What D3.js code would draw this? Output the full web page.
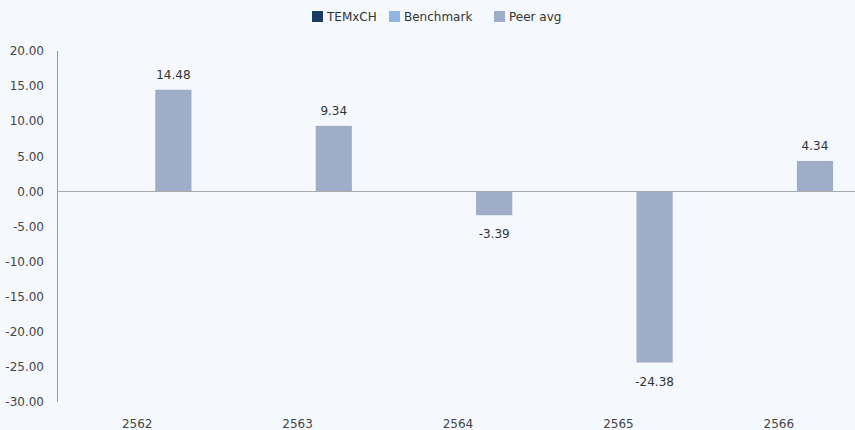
<!DOCTYPE html>
<html>
<head>
<meta charset="utf-8">
<script src="https://cdn.jsdelivr.net/npm/d3@7"></script>
<style>
  body { margin: 0; background: #f5f9fd; }
  svg { display: block; font-family: "DejaVu Sans", "Noto Sans", sans-serif; }
</style>
</head>
<body>
<div id="chart"></div>
<script>
var width = 855;
var height = 430;

// data
var years = ['2562', '2563', '2564', '2565', '2566'];
var seriesNames = ['TEMxCH', 'Benchmark', 'Peer avg'];
var temxch = [null, null, null, null, null];
var benchmark = [null, null, null, null, null];
var peerAvg = [14.48, 9.34, -3.39, -24.38, 4.34];
var yTicks = [20, 15, 10, 5, 0, -5, -10, -15, -20, -25, -30];
var colors = ['#1b3a63', '#8fb6e3', '#a0adc8'];

var seriesValues = [temxch, benchmark, peerAvg];

var svg = d3.select('#chart')
  .append('svg')
  .attr('width', width)
  .attr('height', height);

// plot area (not "top": that name is taken by window.top)
var plotLeft = 57, plotRight = 855, plotTop = 51, plotBottom = 402;

// the category bands run a little past the right edge
var x0 = d3.scaleBand()
  .domain(years)
  .range([plotLeft, 859])
  .paddingInner(0.3233)
  .paddingOuter(0.3233 / 2);

var x1 = d3.scaleBand()
  .domain(seriesNames)
  .range([0, x0.bandwidth()]);

var y = d3.scaleLinear()
  .domain([-30, 20])
  .range([plotBottom, plotTop]);

var fmt = d => d.toFixed(2);  // plain hyphen for negatives

// y axis labels
svg.append('g')
  .selectAll('text')
  .data(yTicks)
  .enter()
  .append('text')
  .attr('x', 44)
  .attr('y', d => y(d))
  .attr('dy', '0.35em')
  .attr('text-anchor', 'end')
  .style('font-size', '12px')
  .style('fill', '#444')
  .text(fmt);

// y axis line
svg.append('line')
  .attr('x1', plotLeft + 0.5).attr('x2', plotLeft + 0.5)
  .attr('y1', y(20)).attr('y2', y(-30))
  .style('stroke', '#999')
  .style('stroke-width', 1);

// bars
seriesNames.forEach(function (name, i) {
  var rows = years.map((yr, j) => ({ year: yr, value: seriesValues[i][j] }))
    .filter(d => d.value != null);

  var g = svg.append('g');

  g.selectAll('rect')
    .data(rows)
    .enter()
    .append('rect')
    .attr('x', d => x0(d.year) + x1(name))
    .attr('width', x1.bandwidth())
    .attr('y', d => y(Math.max(0, d.value)))
    .attr('height', d => Math.abs(y(d.value) - y(0)))
    .style('fill', colors[i]);

  g.selectAll('text')
    .data(rows)
    .enter()
    .append('text')
    .attr('x', d => x0(d.year) + x1(name) + x1.bandwidth() / 2)
    .attr('y', d => d.value >= 0 ? y(d.value) - 15 : y(d.value) + 19)
    .attr('dy', '0.35em')
    .attr('text-anchor', 'middle')
    .style('font-size', '12px')
    .style('fill', '#333')
    .text(d => fmt(d.value));
});

// zero line
svg.append('line')
  .attr('x1', plotLeft).attr('x2', plotRight)
  .attr('y1', Math.round(y(0)) + 0.5).attr('y2', Math.round(y(0)) + 0.5)
  .style('stroke', '#aaa')
  .style('stroke-width', 1);

// x labels
svg.append('g')
  .selectAll('text')
  .data(years)
  .enter()
  .append('text')
  .attr('x', d => x0(d) + x0.bandwidth() / 2)
  .attr('y', 424)
  .attr('dy', '0.35em')
  .attr('text-anchor', 'middle')
  .style('font-size', '12px')
  .style('fill', '#444')
  .text(d => d);

// legend
var legendX = [312, 389, 494];
var legend = svg.append('g')
  .selectAll('g')
  .data(seriesNames)
  .enter()
  .append('g')
  .attr('transform', (d, i) => 'translate(' + legendX[i] + ', 11)');

legend.append('rect')
  .attr('width', 11)
  .attr('height', 11)
  .style('fill', (d, i) => colors[i]);

legend.append('text')
  .attr('x', 15)
  .attr('y', 5.5)
  .attr('dy', '0.35em')
  .style('font-size', '12px')
  .style('fill', '#333')
  .text(d => d);
</script>
</body>
</html>
